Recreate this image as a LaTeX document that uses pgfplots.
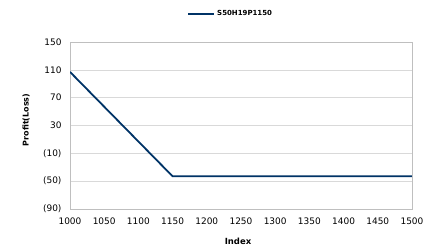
\documentclass[border=0pt]{standalone}
\usepackage{pgfplots}
\pgfplotsset{compat=1.18}
\usepackage{fontspec}
\setmainfont{DejaVu Sans}
\definecolor{navy}{RGB}{0,51,102}
\definecolor{gridc}{RGB}{217,217,217}
\definecolor{axc}{RGB}{191,191,191}
\begin{document}
\begin{tikzpicture}
\path[use as bounding box] (0,0) rectangle (436bp,248bp);
\begin{axis}[
  at={(70bp,39bp)}, anchor=south west,
  scale only axis, width=342bp, height=167bp,
  xmin=1000, xmax=1500, ymin=-90, ymax=150,
  xtick={1000,1050,...,1500},
  ytick={-90,-50,-10,30,70,110,150},
  yticklabels={(90),(50),(10),30,70,110,150},
  /pgf/number format/assume math mode=true,
  xticklabel style={/pgf/number format/1000 sep={}, font=\fontsize{9}{10}\selectfont, yshift=-5bp},
  yticklabel style={font=\fontsize{9}{10}\selectfont, xshift=-5bp},
  major tick length=0pt,
  ymajorgrids, grid style={gridc, line width=0.6bp},
  axis line style={axc, line width=0.8bp},
  xlabel={\fontsize{8.5}{9}\selectfont\bfseries Index},
  ylabel={\fontsize{8}{9}\selectfont\bfseries Profit(Loss)},
  xlabel style={at={(axis description cs:0.5,0)}, anchor=center, yshift=-32.7bp, xshift=-3bp},
  ylabel style={at={(axis description cs:0,0.5)}, anchor=center, xshift=5.5bp, yshift=44bp},
  legend style={at={(0.47,1)}, anchor=center, yshift=28bp, draw=none, fill=none,
    font=\fontsize{7}{8}\selectfont\bfseries, inner sep=1bp},
  legend image code/.code={\draw[#1, line width=1.8bp] (0,0) -- (26bp,0);},
  legend cell align=left,
]
\addplot[navy, line width=1.8bp] coordinates {(1000,107) (1150,-43) (1500,-43)};
\addlegendentry{S50H19P1150}
\end{axis}
\end{tikzpicture}
\end{document}
